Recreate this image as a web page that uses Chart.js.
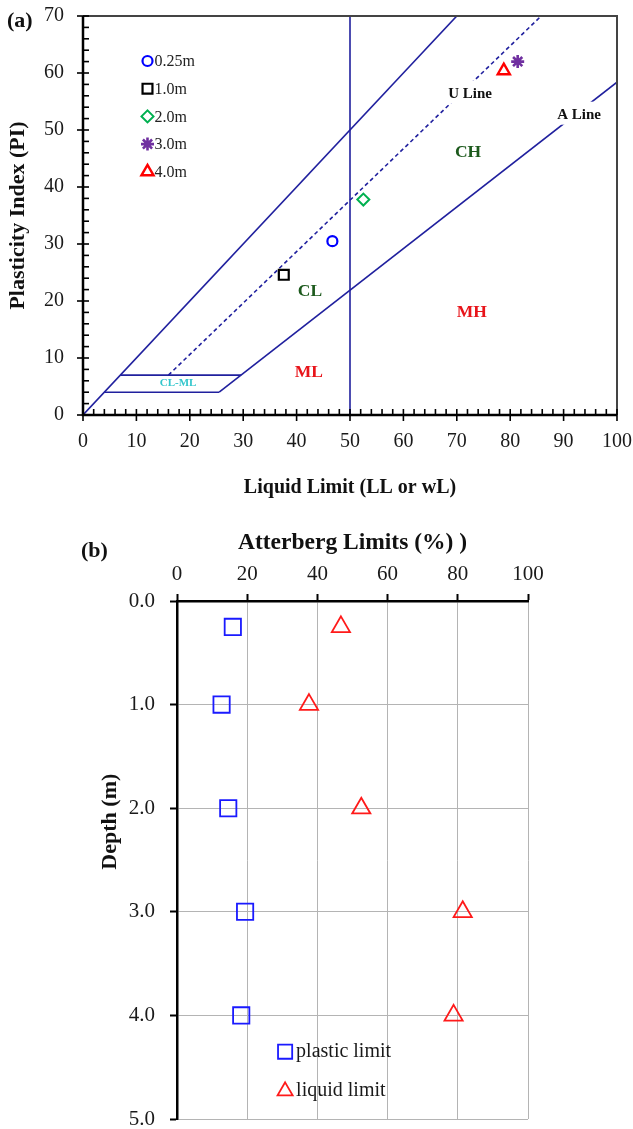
<!DOCTYPE html>
<html><head><meta charset="utf-8">
<script src="https://cdn.jsdelivr.net/npm/chart.js@4"></script>
<style>
html,body{margin:0;padding:0;background:#fff;}
#wa{position:absolute;left:0;top:0;width:633px;height:520px;}
#wb{position:absolute;left:0;top:520px;width:633px;height:609px;}
</style></head><body>
<div id="wa"><canvas id="ca"></canvas></div>
<div id="wb"><canvas id="cb"></canvas></div>
<script>
// ---------- data ----------
const sampleLabels = ['0.25m', '1.0m', '2.0m', '3.0m', '4.0m'];
const depths = [0.25, 1.0, 2.0, 3.0, 4.0];
const liquidLimit = [46.7, 37.6, 52.5, 81.4, 78.8];
const plasticityIndex = [30.5, 24.6, 37.8, 62.0, 60.4];
const plasticLimit = [15.9, 12.7, 14.6, 19.4, 18.3];
const xTicksA = [0, 100, 10];
const yTicksA = [0, 70, 10];
const xTicksB = [0, 100, 20];
const depthTicks = [0, 5, 1];
// Casagrande chart boundary lines, [LL, PI] pairs
const upperLine = [[0, 0], [70, 70]];
const uLine = [[16, 7], [85.8, 70]];
const aLine = [[25.5, 4], [100, 58.4]];
const llFifty = [[50, 0], [50, 70]];
const clmlTop = [[7, 7], [29.6, 7]];
const clmlBottom = [[4, 4], [25.5, 4]];

// ---------- styles ----------
const SERIF = '"Liberation Serif", "Times New Roman", serif';
const NAVY = '#20209e';
const GREEN = '#1d5a1d';
const RED = '#e8141a';
const markerStyles = ['circle', 'rect', 'rectRot', 'star', 'triangle'];
const markerColors = ['#0000ff', '#000000', '#00b050', '#7030a0', '#ff0000'];
const markerRadius = [5, 7, 6, 6.5, 7];
const markerWidth = [2.2, 2.2, 2, 2.6, 2.4];

const drawPoint = (Chart.helpers && Chart.helpers.drawPoint) ? Chart.helpers.drawPoint : null;

function pts(arr) { return arr.map(p => ({x: p[0], y: p[1]})); }
function lineDs(arr, dash) {
  return {data: pts(arr), showLine: true, borderColor: NAVY, borderWidth: 1.6,
          borderDash: dash || [], pointRadius: 0, fill: false, tension: 0, order: 2};
}
function noPad(s) { s.paddingLeft = 0; s.paddingRight = 0; s.paddingTop = 0; s.paddingBottom = 0; }

const refDatasets = [
  lineDs(upperLine), lineDs(uLine, [4, 3]), lineDs(aLine), lineDs(llFifty),
  lineDs(clmlTop), lineDs(clmlBottom)
];
const sampleDatasets = sampleLabels.map((s, i) => ({
  label: s,
  data: [{x: liquidLimit[i], y: plasticityIndex[i]}],
  pointStyle: markerStyles[i], pointRadius: markerRadius[i],
  borderColor: markerColors[i], backgroundColor: 'rgba(0,0,0,0)',
  pointBorderWidth: markerWidth[i], borderWidth: markerWidth[i], order: 1
}));

const zoneTexts = [
  {t: 'CH', x: 72.1, y: 46.0, c: GREEN, s: 17.5},
  {t: 'CL', x: 42.5, y: 21.6, c: GREEN, s: 17.5},
  {t: 'MH', x: 72.8, y: 17.9, c: RED, s: 17.5},
  {t: 'ML', x: 42.3, y: 7.4, c: RED, s: 17.5},
  {t: 'CL-ML', x: 17.8, y: 5.6, c: '#33c6cc', s: 11}
];
const lineTexts = [
  {t: 'U Line', x: 72.5, y: 56.3},
  {t: 'A Line', x: 92.9, y: 52.6}
];

function marker(ctx, style, color, r, w, x, y) {
  ctx.save();
  ctx.strokeStyle = color; ctx.fillStyle = 'rgba(0,0,0,0)'; ctx.lineWidth = w;
  if (drawPoint) drawPoint(ctx, {pointStyle: style, radius: r, rotation: 0, borderWidth: w}, x, y);
  ctx.restore();
}

const plugA = {
  id: 'plugA',
  afterDatasetsDraw(chart) {
    const {ctx, chartArea: {left, right, top, bottom}, scales: {x, y}} = chart;
    ctx.save();
    ctx.font = 'bold 15px ' + SERIF;
    ctx.textAlign = 'center'; ctx.textBaseline = 'middle';
    lineTexts.forEach(l => {
      const px = x.getPixelForValue(l.x), py = y.getPixelForValue(l.y);
      const w = ctx.measureText(l.t).width;
      ctx.fillStyle = '#fff';
      ctx.fillRect(px - w / 2 - 2, py - 13.5, w + 4, 23);
      ctx.fillStyle = '#111';
      ctx.fillText(l.t, px, py);
    });
    zoneTexts.forEach(z => {
      ctx.font = 'bold ' + z.s + 'px ' + SERIF;
      ctx.fillStyle = z.c;
      ctx.fillText(z.t, x.getPixelForValue(z.x), y.getPixelForValue(z.y));
    });
    // legend
    ctx.font = '16px ' + SERIF; ctx.textAlign = 'left';
    sampleLabels.forEach((s, i) => {
      const my = top + 45 + i * 27.7;
      const mx = left + 64.5;
      marker(ctx, markerStyles[i], markerColors[i], markerRadius[i], markerWidth[i], mx, my);
      ctx.fillStyle = '#222';
      ctx.fillText(s, mx + 7, my + 1);
    });
    // frame and axes
    ctx.strokeStyle = '#444'; ctx.lineWidth = 2;
    ctx.beginPath(); ctx.moveTo(left, top); ctx.lineTo(right, top); ctx.lineTo(right, bottom); ctx.stroke();
    ctx.strokeStyle = '#000'; ctx.lineWidth = 2.5;
    ctx.beginPath(); ctx.moveTo(left, top); ctx.lineTo(left, bottom); ctx.lineTo(right, bottom); ctx.stroke();
    ctx.lineWidth = 1.6;
    for (let v = yTicksA[0]; v <= yTicksA[1]; v += 2) {
      const py = y.getPixelForValue(v), major = v % yTicksA[2] === 0;
      ctx.beginPath(); ctx.moveTo(major ? left - 6 : left, py); ctx.lineTo(left + 6, py); ctx.stroke();
    }
    for (let v = xTicksA[0]; v <= xTicksA[1]; v += 2) {
      const px = x.getPixelForValue(v), major = v % xTicksA[2] === 0;
      ctx.beginPath(); ctx.moveTo(px, bottom - 6); ctx.lineTo(px, major ? bottom + 6 : bottom); ctx.stroke();
    }
    ctx.font = 'bold 22px ' + SERIF; ctx.fillStyle = '#111'; ctx.textAlign = 'left';
    ctx.fillText('(a)', 7, 21);
    ctx.restore();
  }
};

new Chart(document.getElementById('ca'), {
  type: 'scatter',
  data: {datasets: [...refDatasets, ...sampleDatasets]},
  options: {
    animation: false, responsive: true, maintainAspectRatio: false, devicePixelRatio: 1,
    layout: {padding: {top: 16, right: 16, left: 0, bottom: 0}, autoPadding: false},
    plugins: {legend: {display: false}, tooltip: {enabled: false}},
    scales: {
      x: {
        type: 'linear', min: xTicksA[0], max: xTicksA[1],
        afterFit: s => { s.height = 105; noPad(s); },
        ticks: {stepSize: xTicksA[2], font: {family: SERIF, size: 20}, color: '#1a1a1a', padding: 15, maxRotation: 0},
        grid: {display: false, drawTicks: false}, border: {display: false},
        title: {display: true, text: 'Liquid Limit (LL or wL)', color: '#111',
                font: {family: SERIF, size: 20, weight: 'bold'}, padding: {top: 0, bottom: 20}}
      },
      y: {
        type: 'linear', min: yTicksA[0], max: yTicksA[1],
        afterFit: s => { s.width = 83; noPad(s); },
        ticks: {stepSize: yTicksA[2], font: {family: SERIF, size: 20}, color: '#1a1a1a', padding: 19},
        grid: {display: false, drawTicks: false}, border: {display: false},
        title: {display: true, text: 'Plasticity Index (PI)', color: '#111',
                font: {family: SERIF, size: 22, weight: 'bold'}, padding: {top: 5, bottom: 0}}
      }
    }
  },
  plugins: [plugA]
});

// ---------- chart (b) ----------
const legendB = [
  {t: 'plastic limit', style: 'rect', color: '#1a1aff', r: 10, x: 30.8, y: 4.35},
  {t: 'liquid limit', style: 'triangle', color: '#ff1a1a', r: 8.7, x: 30.8, y: 4.73}
];
const plugB = {
  id: 'plugB',
  afterDraw(chart) {
    const {ctx, scales: {x, y}} = chart;
    ctx.save();
    ctx.font = '20px ' + SERIF; ctx.textAlign = 'left'; ctx.textBaseline = 'middle';
    legendB.forEach(l => {
      const px = x.getPixelForValue(l.x), py = y.getPixelForValue(l.y);
      marker(ctx, l.style, l.color, l.r, 1.8, px, py);
      ctx.fillStyle = '#1a1a1a';
      ctx.fillText(l.t, px + 11, py);
    });
    ctx.font = 'bold 22px ' + SERIF; ctx.fillStyle = '#111';
    ctx.fillText('(b)', 81, 31);
    // depth axis title
    ctx.save();
    ctx.translate(110, y.getPixelForValue(2.13));
    ctx.rotate(-Math.PI / 2);
    ctx.textAlign = 'center';
    ctx.font = 'bold 22px ' + SERIF;
    ctx.fillText('Depth (m)', 0, 0);
    ctx.restore();
    ctx.restore();
  }
};

const gridB = {color: '#b4b4b4', lineWidth: 1, tickColor: '#000', tickLength: 7, tickWidth: 2};
new Chart(document.getElementById('cb'), {
  type: 'scatter',
  data: {datasets: [
    {label: 'plastic limit', data: depths.map((d, i) => ({x: plasticLimit[i], y: d})),
     pointStyle: 'rect', pointRadius: 11.5, borderColor: '#1a1aff', backgroundColor: 'rgba(0,0,0,0)', borderWidth: 1.8},
    {label: 'liquid limit', data: depths.map((d, i) => ({x: liquidLimit[i], y: d})),
     pointStyle: 'triangle', pointRadius: 10.5, borderColor: '#ff1a1a', backgroundColor: 'rgba(0,0,0,0)', borderWidth: 1.8}
  ]},
  options: {
    animation: false, responsive: true, maintainAspectRatio: false, devicePixelRatio: 1,
    layout: {padding: {top: 0, right: 105, left: 0, bottom: 10}, autoPadding: false},
    plugins: {legend: {display: false}, tooltip: {enabled: false}},
    scales: {
      x: {
        type: 'linear', position: 'top', min: xTicksB[0], max: xTicksB[1],
        afterFit: s => { s.height = 81; noPad(s); },
        ticks: {stepSize: xTicksB[2], font: {family: SERIF, size: 21}, color: '#1a1a1a', padding: 7, maxRotation: 0},
        grid: gridB, border: {color: '#000', width: 2.5},
        title: {display: true, text: 'Atterberg Limits (%) )', color: '#111',
                font: {family: SERIF, size: 23.5, weight: 'bold'}, padding: {top: 9, bottom: 0}}
      },
      y: {
        type: 'linear', reverse: true, min: depthTicks[0], max: depthTicks[1],
        afterFit: s => { s.width = 177; noPad(s); },
        ticks: {stepSize: depthTicks[2], font: {family: SERIF, size: 21}, color: '#1a1a1a', padding: 15,
                callback: v => Number(v).toFixed(1)},
        grid: gridB, border: {color: '#000', width: 2.5},
        title: {display: false}
      }
    }
  },
  plugins: [plugB]
});
</script>
</body></html>
